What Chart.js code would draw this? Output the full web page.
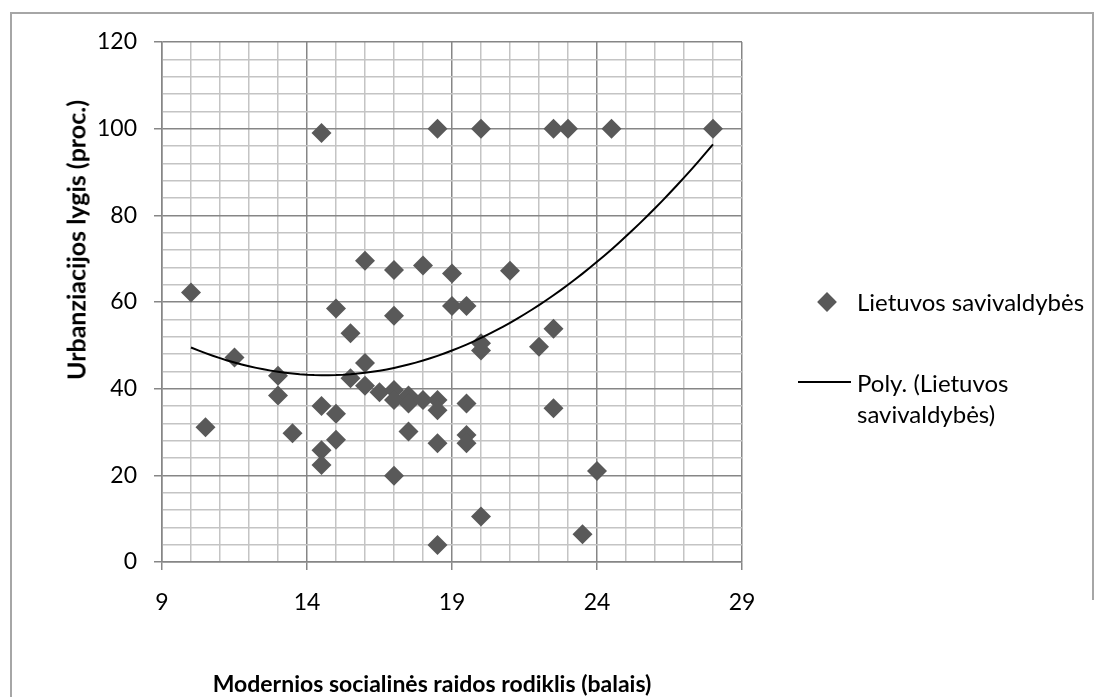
<!DOCTYPE html>
<html>
<head>
<meta charset="utf-8">
<script src="https://cdn.jsdelivr.net/npm/chart.js@4.4.0/dist/chart.umd.min.js"></script>
<style>
  body { margin: 0; background: #fff; }
  #wrap { position: relative; width: 1101px; height: 697px; overflow: hidden; }
  #frameL { position: absolute; left: 10px; top: 12px; width: 2px; height: 700px; background: #a6a6a6; }
  #frameT { position: absolute; left: 10px; top: 12px; width: 1084px; height: 2px; background: #a6a6a6; }
  #frameR { position: absolute; left: 1092px; top: 12px; width: 2px; height: 588px; background: #a6a6a6; }
  #chart { position: absolute; left: 0; top: 0; }
  .leg { position: absolute; font-family: Lato, sans-serif; font-size: 24px; color: #000; line-height: 31px; }
  .diamond { position: absolute; width: 14px; height: 14px; background: #595959; transform: rotate(45deg); }
  .trend { position: absolute; height: 2px; background: #000; }
  .axtitle { position: absolute; font-family: Lato, sans-serif; font-weight: bold; color: #000;
             white-space: nowrap; line-height: 1; }
</style>
</head>
<body>
<div id="wrap">
  <div id="frameL"></div><div id="frameT"></div><div id="frameR"></div>
  <canvas id="chart" width="1101" height="697"></canvas>
  <div class="axtitle" style="left:76px; top:240px; font-size:25px; transform: translate(-50%, -50%) rotate(-90deg);">Urbanziacijos lygis (proc.)</div>
  <div class="axtitle" style="left:432px; top:683px; font-size:23px; transform: translate(-50%, -50%);">Modernios socialinės raidos rodiklis (balais)</div>
  <div class="diamond" style="left:820px; top:295px;"></div>
  <div class="leg" style="left:857px; top:286px;">Lietuvos savivaldybės</div>
  <div class="trend" style="left:798px; top:381px; width:53px;"></div>
  <div class="leg" style="left:857px; top:367px;">Poly. (Lietuvos<br>savivaldybės)</div>
</div>
<script>
// Modernios socialinės raidos rodiklis (balais)
const xValues = [10.0, 10.5, 11.5, 13.0, 13.0, 13.5, 14.5, 14.5, 14.5, 14.5, 15.0, 15.0, 15.0,
  15.5, 15.5, 16.0, 16.0, 16.0, 16.5, 17.0, 17.0, 17.0, 17.0, 17.0, 17.5, 17.5, 17.5,
  18.0, 18.0, 18.5, 18.5, 18.5, 18.5, 18.5, 19.0, 19.0, 19.5, 19.5, 19.5, 19.5,
  20.0, 20.0, 20.0, 20.0, 21.0, 22.0, 22.5, 22.5, 22.5, 23.0, 23.5, 24.0, 24.5, 28.0];
// Urbanizacijos lygis (proc.)
const yValues = [62.2, 31.1, 47.2, 43.0, 38.4, 29.7, 99.0, 36.0, 25.8, 22.4, 58.5, 34.2, 28.2,
  52.8, 42.4, 69.5, 45.9, 40.7, 39.2, 67.4, 56.8, 39.7, 37.4, 19.9, 38.4, 36.6, 30.1,
  68.4, 37.4, 100, 37.4, 35.0, 27.4, 3.9, 66.6, 59.1, 59.1, 36.6, 29.3, 27.4,
  100, 50.5, 48.8, 10.5, 67.2, 49.7, 100, 53.8, 35.5, 100, 6.4, 21.0, 100, 100];

const xTicks = [9, 14, 19, 24, 29];
const yTicks = [0, 20, 40, 60, 80, 100, 120];

// 2nd order trendline y = c0 + c1*x + c2*x^2
const trendCoef = [106.9, -8.72, 0.298];

const seriesName = 'Lietuvos savivaldybės';
const trendName = 'Poly. (Lietuvos savivaldybės)';

const points = xValues.map((x, i) => ({ x: x, y: yValues[i] }));

const xMin = Math.min(...xValues), xMax = Math.max(...xValues);
const trend = [];
for (let x = xMin; x <= xMax + 1e-9; x += 0.25) {
  trend.push({ x: x, y: trendCoef[0] + trendCoef[1] * x + trendCoef[2] * x * x });
}

const majorGrid = '#868686';
const minorGrid = '#c4c4c4';
const tickFont = { family: 'Lato', size: 23 };

new Chart(document.getElementById('chart'), {
  type: 'scatter',
  data: {
    datasets: [
      {
        label: trendName,
        data: trend,
        showLine: true,
        borderColor: '#000',
        borderWidth: 2,
        pointRadius: 0,
        tension: 0,
        order: 0
      },
      {
        label: seriesName,
        data: points,
        pointStyle: 'rectRot',
        pointRadius: 10,
        backgroundColor: '#595959',
        borderColor: '#595959',
        borderWidth: 0,
        order: 1
      }
    ]
  },
  options: {
    responsive: false,
    animation: false,
    layout: { padding: { left: 10, right: 359, top: 42, bottom: 0 } },
    plugins: { legend: { display: false }, tooltip: { enabled: false } },
    scales: {
      x: {
        type: 'linear',
        min: 9, max: 29,
        afterFit: (s) => { s.height = 697 - 562; },
        ticks: {
          stepSize: 1, autoSkip: false, maxRotation: 0,
          color: '#000', font: tickFont, padding: 19,
          callback: (v) => xTicks.includes(v) ? String(v) : ''
        },
        grid: {
          color: (c) => c.tick && xTicks.includes(c.tick.value) ? majorGrid : minorGrid,
          tickColor: (c) => c.tick && xTicks.includes(c.tick.value) ? majorGrid : 'rgba(0,0,0,0)',
          tickLength: 8, lineWidth: 1.5
        },
        border: { color: majorGrid, width: 1.5 }
      },
      y: {
        min: 0, max: 120,
        afterFit: (s) => { s.width = 162 - 10; },
        ticks: {
          stepSize: 4, autoSkip: false,
          color: '#000', font: tickFont, padding: 17,
          callback: (v) => yTicks.includes(v) ? String(v) : ''
        },
        grid: {
          color: (c) => c.tick && yTicks.includes(c.tick.value) ? majorGrid : minorGrid,
          tickColor: (c) => c.tick && yTicks.includes(c.tick.value) ? majorGrid : 'rgba(0,0,0,0)',
          tickLength: 8, lineWidth: 1.5
        },
        border: { color: majorGrid, width: 1.5 }
      }
    }
  }
});
</script>
</body>
</html>
